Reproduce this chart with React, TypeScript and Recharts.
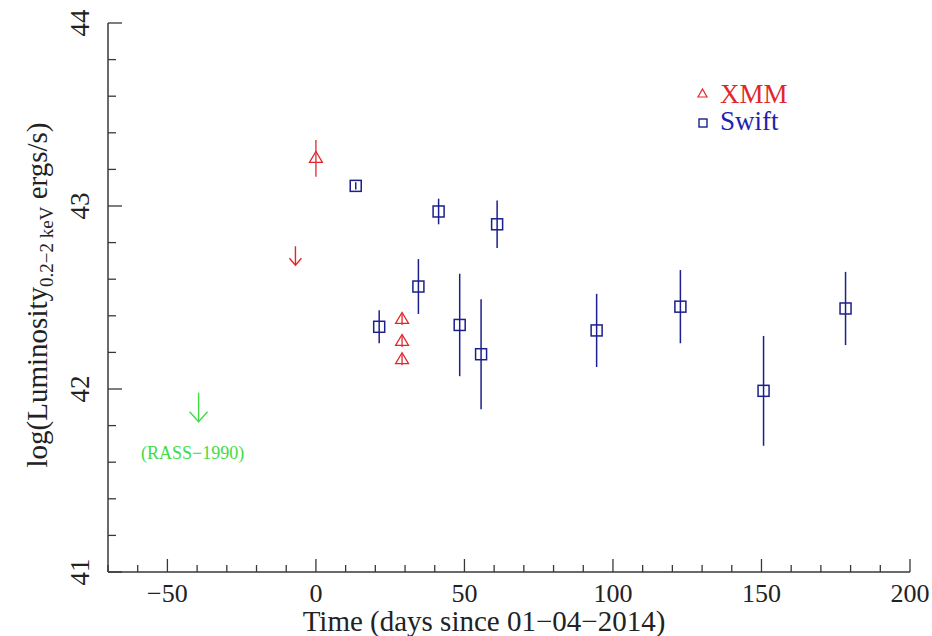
import React from "react";
import { ScatterChart, Scatter, XAxis, YAxis, ErrorBar, Legend } from "recharts";

// XMM detections
const xmmDays = [0, 29, 29, 29];
const xmmLum = [43.26, 42.38, 42.26, 42.16];
const xmmErr = [0.1, 0.03, 0.03, 0.03];
// XMM upper limit
const xmmLimDays = [-6.9];
const xmmLimLum = [42.78];
// Swift
const swiftDays = [13.4, 21.3, 34.5, 41.3, 48.4, 55.6, 61.0, 94.5, 122.7, 150.7, 178.3];
const swiftLum = [43.11, 42.34, 42.56, 42.97, 42.35, 42.19, 42.9, 42.32, 42.45, 41.99, 42.44];
const swiftErr = [0.02, 0.09, 0.15, 0.07, 0.28, 0.3, 0.13, 0.2, 0.2, 0.3, 0.2];
// RASS upper limit
const rassDays = [-39.5];
const rassLum = [41.98];

const xTicks = [-70, -60, -50, -40, -30, -20, -10, 0, 10, 20, 30, 40, 50, 60, 70, 80, 90, 100, 110, 120, 130, 140, 150, 160, 170, 180, 190, 200];
const yTicks = [41, 41.2, 41.4, 41.6, 41.8, 42, 42.2, 42.4, 42.6, 42.8, 43, 43.2, 43.4, 43.6, 43.8, 44];

const FONT = "'Liberation Serif', 'Times New Roman', serif";
const RED = "#e0282c";
const BLUE = "#1c1f8c";
const GREEN = "#3fdc45";
const AXIS = "#383838";

const xmm = xmmDays.map((d, i) => ({ x: d, y: xmmLum[i], err: xmmErr[i] }));
const xmmLim = xmmLimDays.map((d, i) => ({ x: d, y: xmmLimLum[i] }));
const swift = swiftDays.map((d, i) => ({ x: d, y: swiftLum[i], err: swiftErr[i] }));
const rass = rassDays.map((d, i) => ({ x: d, y: rassLum[i] }));

const fmt = (v: number) => (v < 0 ? "\u2212" + Math.abs(v) : String(v));

const XTick = (p: any) => {
  const { x, y, payload, side } = p;
  const v = payload.value;
  const major = v % 50 === 0;
  const len = major ? 13 : 7;
  const dir = side === "top" ? 1 : -1;
  return (
    <g>
      <line x1={x} y1={y} x2={x} y2={y + dir * len} stroke={AXIS} strokeWidth={1.3} />
      {side === "bottom" && major && (
        <text x={x} y={y + 21} textAnchor="middle" dominantBaseline="central" fontSize={26} style={{ fontFamily: FONT }} fill="#222">
          {fmt(v)}
        </text>
      )}
    </g>
  );
};

const YTick = (p: any) => {
  const { x, y, payload, side } = p;
  const v = payload.value;
  const major = Math.abs(v - Math.round(v)) < 1e-6;
  const len = major ? 14 : 8;
  const dir = side === "left" ? 1 : -1;
  return (
    <g>
      <line x1={x} y1={y} x2={x + dir * len} y2={y} stroke={AXIS} strokeWidth={1.3} />
      {side === "left" && major && (
        <text x={x - 28} y={y} textAnchor="middle" dominantBaseline="central" fontSize={27} style={{ fontFamily: FONT }} fill="#222" transform={`rotate(-90 ${x - 28} ${y})`}>
          {Math.round(v)}
        </text>
      )}
    </g>
  );
};

const Triangle = (p: any) => {
  const { cx, cy } = p;
  return <path d={`M${cx - 6.5},${cy + 4} L${cx + 6.5},${cy + 4} L${cx},${cy - 7} Z`} fill="none" stroke={RED} strokeWidth={1.3} />;
};

const Square = (p: any) => {
  const { cx, cy } = p;
  return <rect x={cx - 5.5} y={cy - 5.5} width={11} height={11} fill="none" stroke={BLUE} strokeWidth={1.5} />;
};

const makeArrow = (color: string, len: number, head: number, hh: number, label?: string) => (p: any) => {
  const { cx, cy } = p;
  return (
    <g>
      <line x1={cx} y1={cy} x2={cx} y2={cy + len} stroke={color} strokeWidth={1.4} />
      <path d={`M${cx - head / 2},${cy + len - hh} L${cx},${cy + len} L${cx + head / 2},${cy + len - hh}`} fill="none" stroke={color} strokeWidth={1.4} />
      {label && (
        <text x={cx - 6} y={cy + 60} textAnchor="middle" dominantBaseline="central" fontSize={18} style={{ fontFamily: FONT }} fill={color}>
          {label}
        </text>
      )}
    </g>
  );
};

const LegendBox = () => (
  <svg width={130} height={64}>
    <path d="M3,19 L12,19 L7.5,11 Z" fill="none" stroke={RED} strokeWidth={1.2} />
    <text x={25} y={25} fontSize={27} style={{ fontFamily: FONT }} fill={RED}>XMM</text>
    <rect x={4} y={41} width={8} height={8} fill="none" stroke={BLUE} strokeWidth={1.4} />
    <text x={25} y={52} fontSize={27} style={{ fontFamily: FONT }} fill="#1e22b0">Swift</text>
  </svg>
);

export default function App() {
  return (
    <div style={{ position: "absolute", top: 0, left: 0, width: 932, height: 636, fontFamily: FONT }}>
      <ScatterChart width={932} height={636} margin={{ top: 23, right: 22, bottom: 0, left: 0 }}>
        <XAxis
          xAxisId="b"
          type="number"
          dataKey="x"
          domain={[-70, 200]}
          ticks={xTicks}
          interval={0}
          height={64}
          tickSize={0}
          tickMargin={0}
          tickLine={false}
          axisLine={{ stroke: AXIS, strokeWidth: 1.5 }}
          tick={(p: any) => <XTick {...p} side="bottom" />}
          label={{
            content: () => (
              <text x={484} y={631} textAnchor="middle" fontSize={29} style={{ fontFamily: FONT }} fill="#222">
                Time (days since 01{"\u2212"}04{"\u2212"}2014)
              </text>
            ),
          }}
        />
        <XAxis
          xAxisId="t"
          orientation="top"
          mirror
          type="number"
          dataKey="x"
          domain={[-70, 200]}
          ticks={xTicks}
          interval={0}
          height={0}
          tickSize={0}
          tickMargin={0}
          tickLine={false}
          axisLine={{ stroke: AXIS, strokeWidth: 1.5 }}
          tick={(p: any) => <XTick {...p} side="top" />}
        />
        <YAxis
          yAxisId="l"
          type="number"
          dataKey="y"
          domain={[41, 44]}
          ticks={yTicks}
          interval={0}
          width={108}
          tickSize={0}
          tickMargin={0}
          tickLine={false}
          axisLine={{ stroke: AXIS, strokeWidth: 1.5 }}
          tick={(p: any) => <YTick {...p} side="left" />}
          label={{
            content: () => (
              <text x={47} y={295} textAnchor="middle" fontSize={29} style={{ fontFamily: FONT }} fill="#222" transform="rotate(-90 47 295)">
                log(Luminosity
                <tspan fontSize={19} dy={6}>0.2{"\u2212"}2 keV</tspan>
                <tspan fontSize={29} dy={-6}> ergs/s)</tspan>
              </text>
            ),
          }}
        />
        <YAxis
          yAxisId="r"
          orientation="right"
          mirror
          type="number"
          dataKey="y"
          domain={[41, 44]}
          ticks={yTicks}
          interval={0}
          width={0}
          tickSize={0}
          tickMargin={0}
          tickLine={false}
          axisLine={{ stroke: AXIS, strokeWidth: 1.5 }}
          tick={(p: any) => <YTick {...p} side="right" />}
        />
        <Legend
          layout="vertical"
          align="center"
          verticalAlign="middle"
          wrapperStyle={{ top: 78, left: 695, width: 130, height: 64 }}
          content={() => <LegendBox />}
        />
        <Scatter name="XMM" data={xmm} xAxisId="b" yAxisId="l" shape={Triangle} isAnimationActive={false}>
          <ErrorBar dataKey="err" direction="y" width={0} stroke={RED} strokeWidth={1.3} isAnimationActive={false} />
        </Scatter>
        <Scatter name="XMM limit" data={xmmLim} xAxisId="b" yAxisId="l" shape={makeArrow(RED, 19, 12, 7)} isAnimationActive={false} legendType="none" />
        <Scatter name="Swift" data={swift} xAxisId="b" yAxisId="l" shape={Square} isAnimationActive={false}>
          <ErrorBar dataKey="err" direction="y" width={0} stroke={BLUE} strokeWidth={1.5} isAnimationActive={false} />
        </Scatter>
        <Scatter name="RASS" data={rass} xAxisId="b" yAxisId="l" shape={makeArrow(GREEN, 29, 18, 10, "(RASS\u22121990)")} isAnimationActive={false} legendType="none" />
      </ScatterChart>
    </div>
  );
}
